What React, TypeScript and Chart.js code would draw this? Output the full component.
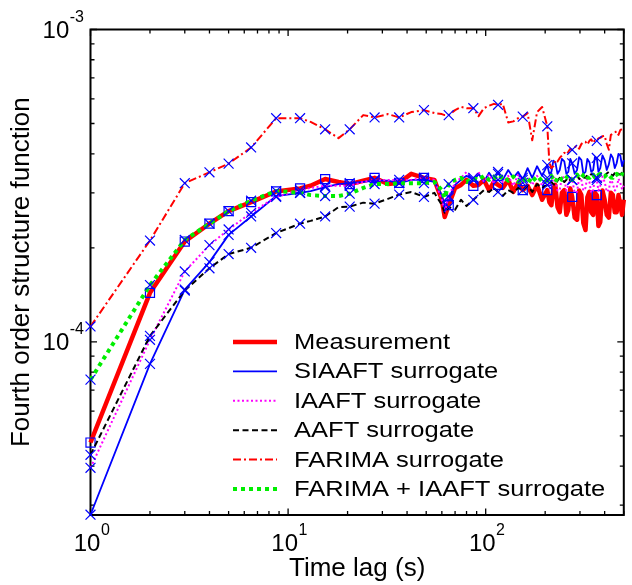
import React, { useEffect, useRef } from 'react';
import { Chart, registerables } from 'chart.js';

Chart.register(...registerables);

// ---------- data (structure function values in units of 1e-4) ----------
const UNIT = 1e-4;
const LAGS = [
  1, 2, 3, 4, 5,
  6.5, 8.7, 11.5, 13, 15.4,
  18, 20.5, 24, 27.4, 32,
  36.5, 42, 48.7, 55, 60,
  62, 65, 70, 75, 80,
  86.6, 92, 98, 104, 110,
  115.5, 122, 130, 138, 146,
  154, 163, 172, 182, 193,
  205, 210, 215, 220, 225,
  231, 237, 243, 250, 256,
  262, 268, 274, 282, 290,
  297, 305, 312, 320, 327,
  335, 342, 350, 357, 365,
  372, 380, 390, 400, 410,
  420, 430, 440, 450, 460,
  470, 480, 490, 500,
];
const MARKER_LAGS = [1, 2, 3, 4, 5, 6.5, 8.7, 11.5, 15.4, 20.5, 27.4, 36.5, 48.7, 65, 86.6, 115.5, 154, 205, 274, 365];

const MEASUREMENT = [
  0.476, 1.435, 2.095, 2.39, 2.62,
  2.8, 3.03, 3.1, 3.16, 3.32,
  3.25, 3.2, 3.28, 3.35, 3.2,
  3.23, 3.45, 3.35, 3.3, 2.85,
  2.51, 2.74, 3.11, 3.18, 3.3,
  3.16, 3.18, 3.3, 3.06, 3.25,
  3.18, 3.11, 3.3, 3.02, 3.23,
  3.06, 3.16, 2.95, 3.18, 2.85,
  3.06, 2.8, 2.74, 3.1, 3.18,
  2.7, 2.6, 3.0, 3.06, 2.55,
  2.65, 3.1, 2.91, 2.5, 2.46,
  3.05, 2.95, 2.4, 2.28, 2.9,
  3.02, 2.6, 2.55, 3.0, 2.95,
  2.35, 2.42, 3.05, 2.85, 2.55,
  2.5, 3.0, 2.95, 2.6, 2.6,
  2.95, 2.74, 2.55, 2.85,
];
const SIAAFT = [
  0.2796, 0.85, 1.47, 1.8, 2.2,
  2.52, 2.93, 3.0, 3.04, 3.13,
  3.2, 3.22, 3.25, 3.28, 3.28,
  3.22, 3.3, 3.3, 3.25, 2.95,
  2.65, 2.89, 3.18, 3.3, 3.4,
  3.3, 3.45, 3.25, 3.48, 3.3,
  3.5, 3.3, 3.55, 3.35, 3.5,
  3.3, 3.6, 3.35, 3.65, 3.4,
  3.68, 3.45, 3.5, 3.8, 3.76,
  3.45, 3.55, 3.85, 3.78, 3.45,
  3.5, 3.85, 3.73, 3.45, 3.55,
  3.9, 3.82, 3.45, 3.5, 3.85,
  3.76, 3.5, 3.55, 3.9, 3.88,
  3.5, 3.6, 3.95, 3.82, 3.55,
  3.7, 3.98, 3.88, 3.6, 3.73,
  4.0, 3.95, 3.65, 3.82,
];
const IAAFT = [
  0.395, 1.015, 1.68, 2.04, 2.29,
  2.59, 2.91, 3.06, 3.11, 3.16,
  3.16, 3.16, 3.25, 3.3, 3.3,
  3.3, 3.3, 3.35, 3.3, 2.85,
  2.6, 2.93, 3.23, 3.35, 3.5,
  3.3, 3.5, 3.25, 3.43, 3.2,
  3.45, 3.25, 3.4, 3.16, 3.43,
  3.23, 3.35, 3.18, 3.4, 3.16,
  3.35, 3.1, 3.11, 3.38, 3.3,
  3.05, 3.06, 3.38, 3.35, 3.05,
  3.16, 3.4, 3.3, 3.0, 3.02,
  3.35, 3.3, 3.05, 3.11, 3.38,
  3.25, 3.0, 3.06, 3.35, 3.3,
  3.05, 3.16, 3.38, 3.25, 3.02,
  3.06, 3.35, 3.2, 3.05, 3.11,
  3.33, 3.23, 3.08, 3.16,
];
const AAFT = [
  0.435, 1.045, 1.46, 1.72, 1.91,
  2.0, 2.23, 2.39, 2.44, 2.52,
  2.7, 2.71, 2.79, 2.77, 2.87,
  2.96, 3.02, 2.91, 3.0, 2.74,
  2.59, 2.7, 2.65, 2.85, 2.72,
  2.85, 2.95, 3.06, 3.02, 3.11,
  3.02, 2.93, 3.06, 3.0, 3.11,
  3.06, 3.16, 3.02, 3.2, 3.11,
  3.18, 3.22, 3.25, 3.2, 3.18,
  3.28, 3.35, 3.3, 3.25, 3.3,
  3.35, 3.28, 3.3, 3.38, 3.4,
  3.33, 3.3, 3.36, 3.35, 3.42,
  3.4, 3.44, 3.45, 3.38, 3.35,
  3.42, 3.45, 3.4, 3.4, 3.46,
  3.5, 3.44, 3.4, 3.47, 3.5,
  3.45, 3.43, 3.48, 3.5,
];
const FARIMA = [
  1.12, 2.11, 3.22, 3.49, 3.72,
  4.19, 5.2, 5.2, 5.06, 4.79,
  4.49, 4.79, 5.32, 5.23, 5.36,
  5.23, 5.44, 5.52, 5.4, 5.36,
  5.32, 5.32, 5.52, 5.65, 5.6,
  5.6, 5.28, 5.6, 5.7, 5.78,
  5.74, 5.78, 5.04, 5.08, 5.2,
  5.26, 5.4, 4.42, 5.44, 5.65,
  4.9, 3.75, 3.6, 3.65, 3.82,
  3.78, 3.88, 3.95, 4.03, 3.98,
  4.06, 4.15, 4.12, 4.2, 4.24,
  4.15, 4.3, 4.35, 4.37, 4.28,
  4.4, 4.45, 4.33, 4.42, 4.4,
  4.48, 4.5, 4.55, 4.57, 4.3,
  4.12, 4.6, 4.64, 4.68, 4.72,
  4.6, 4.76, 4.8, 4.85,
];
const FARIMA_IAAFT = [
  0.757, 1.52, 2.12, 2.39, 2.62,
  2.83, 3.04, 3.0, 2.95, 2.93,
  2.93, 2.98, 3.11, 3.2, 3.2,
  3.22, 3.22, 3.22, 3.25, 3.06,
  2.89, 3.2, 3.3, 3.35, 3.25,
  3.35, 3.3, 3.4, 3.3, 3.38,
  3.3, 3.4, 3.28, 3.38, 3.25,
  3.35, 3.22, 3.38, 3.25, 3.35,
  3.28, 3.35, 3.4, 3.3, 3.25,
  3.35, 3.38, 3.3, 3.28, 3.36,
  3.4, 3.32, 3.3, 3.38, 3.43,
  3.35, 3.35, 3.42, 3.45, 3.36,
  3.35, 3.42, 3.43, 3.36, 3.35,
  3.42, 3.45, 3.38, 3.38, 3.44,
  3.43, 3.36, 3.35, 3.42, 3.45,
  3.38, 3.38, 3.44, 3.43,
];

const SERIES_NAMES = [
  'Measurement',
  'SIAAFT surrogate',
  'IAAFT surrogate',
  'AAFT surrogate',
  'FARIMA surrogate',
  'FARIMA + IAAFT surrogate',
];
const SERIES_VALUES = [MEASUREMENT, SIAAFT, IAAFT, AAFT, FARIMA, FARIMA_IAAFT];

const X_MAJOR = [1, 10, 100];
const X_MAJOR_EXP = ['0', '1', '2'];
const Y_MAJOR = [1e-4, 1e-3];
const Y_MAJOR_EXP = ['-4', '-3'];
const X_LIMITS = [1, 500];
const Y_LIMITS = [2.79e-5, 1e-3];

const X_TITLE = 'Time lag (s)';
const Y_TITLE = 'Fourth order structure function';

// ---------- styles ----------
const FONT = '"Liberation Sans", Arial, Helvetica, sans-serif';
const STYLES = [
  { color: '#ff0000', width: 4.5, dash: [] as number[], marker: 'rect', mr: 6.4 },
  { color: '#0000ff', width: 1.8, dash: [] as number[], marker: 'crossRot', mr: 7 },
  { color: '#ff00ff', width: 2, dash: [2, 2.5], marker: 'crossRot', mr: 7 },
  { color: '#000000', width: 2, dash: [6, 3.5], marker: 'crossRot', mr: 7 },
  { color: '#ff0000', width: 2, dash: [8, 3, 2, 3], marker: 'crossRot', mr: 7 },
  { color: '#00ee00', width: 4, dash: [4, 4], marker: 'crossRot', mr: 7 },
];

const markerSet = new Set(MARKER_LAGS);

function minorTicks(min: number, max: number): number[] {
  const out: number[] = [];
  let dec = Math.pow(10, Math.floor(Math.log10(min)));
  while (dec <= max) {
    for (let k = 1; k <= 9; k++) {
      const v = k * dec;
      if (v >= min * 0.999 && v <= max * 1.001) out.push(v);
    }
    dec *= 10;
  }
  return out;
}

const axesPlugin = {
  id: 'matlabAxes',
  beforeDatasetsDraw(chart: any) {
    const { ctx, chartArea: a, scales } = chart;
    const xs = scales.x, ys = scales.y;
    ctx.save();
    ctx.strokeStyle = '#000';
    ctx.lineWidth = 1.3;
    ctx.beginPath();
    for (const v of minorTicks(X_LIMITS[0], X_LIMITS[1])) {
      const major = X_MAJOR.some((m) => Math.abs(m - v) < 1e-9);
      const len = major ? 6.5 : 4;
      const px = xs.getPixelForValue(v);
      ctx.moveTo(px, a.bottom);
      ctx.lineTo(px, a.bottom - len);
      ctx.moveTo(px, a.top);
      ctx.lineTo(px, a.top + len);
    }
    for (const v of minorTicks(Y_LIMITS[0], Y_LIMITS[1])) {
      const major = Y_MAJOR.some((m) => Math.abs(m - v) / m < 1e-6);
      const len = major ? 6.5 : 4;
      const py = ys.getPixelForValue(v);
      ctx.moveTo(a.left, py);
      ctx.lineTo(a.left + len, py);
      ctx.moveTo(a.right, py);
      ctx.lineTo(a.right - len, py);
    }
    ctx.stroke();
    ctx.lineWidth = 2;
    ctx.strokeRect(a.left, a.top, a.right - a.left, a.bottom - a.top);
    ctx.restore();
  },
  afterDraw(chart: any) {
    const { ctx, chartArea: a, scales } = chart;
    const xs = scales.x, ys = scales.y;
    ctx.save();
    ctx.fillStyle = '#000';
    ctx.textBaseline = 'alphabetic';
    ctx.textAlign = 'left';
    const baseFont = `24px ${FONT}`;
    const expFont = `16px ${FONT}`;
    // x tick labels
    X_MAJOR.forEach((v, i) => {
      const px = xs.getPixelForValue(v);
      ctx.font = baseFont;
      const wb = ctx.measureText('10').width;
      ctx.font = expFont;
      const we = ctx.measureText(X_MAJOR_EXP[i]).width;
      const start = px - (wb + we) / 2 + 1;
      ctx.font = baseFont;
      ctx.fillText('10', start, 551);
      ctx.font = expFont;
      ctx.fillText(X_MAJOR_EXP[i], start + wb + 0.5, 535);
    });
    // y tick labels
    Y_MAJOR.forEach((v, i) => {
      const py = ys.getPixelForValue(v);
      ctx.font = baseFont;
      const wb = ctx.measureText('10').width;
      ctx.font = expFont;
      const we = ctx.measureText(Y_MAJOR_EXP[i]).width;
      const start = a.left - 7 - (wb + we);
      ctx.font = baseFont;
      ctx.fillText('10', start, py + 8.5);
      ctx.font = expFont;
      ctx.fillText(Y_MAJOR_EXP[i], start + wb + 0.5, py - 8);
    });
    // axis titles
    ctx.font = `26px ${FONT}`;
    ctx.textAlign = 'center';
    ctx.fillText(X_TITLE, (a.left + a.right) / 2, 576);
    ctx.save();
    ctx.translate(29, (a.top + a.bottom) / 2);
    ctx.rotate(-Math.PI / 2);
    ctx.fillText(Y_TITLE, 0, 0);
    ctx.restore();
    // legend
    const lx0 = 233, lx1 = 277, tx = 294;
    SERIES_NAMES.forEach((name, i) => {
      const yy = 342 + i * 29.4;
      const st = STYLES[i];
      ctx.save();
      ctx.strokeStyle = st.color;
      ctx.lineWidth = st.width;
      ctx.setLineDash(st.dash);
      ctx.beginPath();
      ctx.moveTo(lx0, yy);
      ctx.lineTo(lx1, yy);
      ctx.stroke();
      ctx.restore();
      ctx.save();
      ctx.font = `22px ${FONT}`;
      ctx.textAlign = 'left';
      ctx.textBaseline = 'middle';
      ctx.translate(tx, yy);
      ctx.scale(1.16, 1);
      ctx.fillText(name, 0, 1);
      ctx.restore();
    });
    ctx.restore();
  },
};

export default function App() {
  const ref = useRef<HTMLCanvasElement>(null);
  useEffect(() => {
    const canvas = ref.current;
    if (!canvas) return;
    const datasets = SERIES_VALUES.map((vals, i) => {
      const st = STYLES[i];
      return {
        label: SERIES_NAMES[i],
        data: LAGS.map((lag, j) => ({ x: lag, y: vals[j] * UNIT })),
        borderColor: st.color,
        borderWidth: st.width,
        borderDash: st.dash,
        borderCapStyle: 'butt',
        borderJoinStyle: 'round',
        fill: false,
        tension: 0,
        clip: false as any,
        order: SERIES_VALUES.length - i,
        pointStyle: st.marker,
        pointRadius: (c: any) => (markerSet.has(LAGS[c.dataIndex]) ? st.mr : 0),
        pointHoverRadius: 0,
        pointBorderColor: '#0000ff',
        pointBackgroundColor: 'rgba(0,0,0,0)',
        pointBorderWidth: 1.2,
      };
    });
    const chart = new Chart(canvas, {
      type: 'line',
      data: { datasets } as any,
      options: {
        responsive: false,
        devicePixelRatio: 1,
        animation: false,
        events: [],
        layout: { padding: { left: 90.5, top: 29.5, right: 2, bottom: 70 } },
        plugins: { legend: { display: false }, tooltip: { enabled: false } },
        scales: {
          x: { type: 'logarithmic', min: X_LIMITS[0], max: X_LIMITS[1], display: false },
          y: { type: 'logarithmic', min: Y_LIMITS[0], max: Y_LIMITS[1], display: false },
        },
      } as any,
      plugins: [axesPlugin],
    });
    return () => chart.destroy();
  }, []);
  return (
    <canvas
      ref={ref}
      width={632}
      height={585}
      style={{ position: 'fixed', left: 0, top: 0, width: '632px', height: '585px', background: '#fff' }}
    />
  );
}
